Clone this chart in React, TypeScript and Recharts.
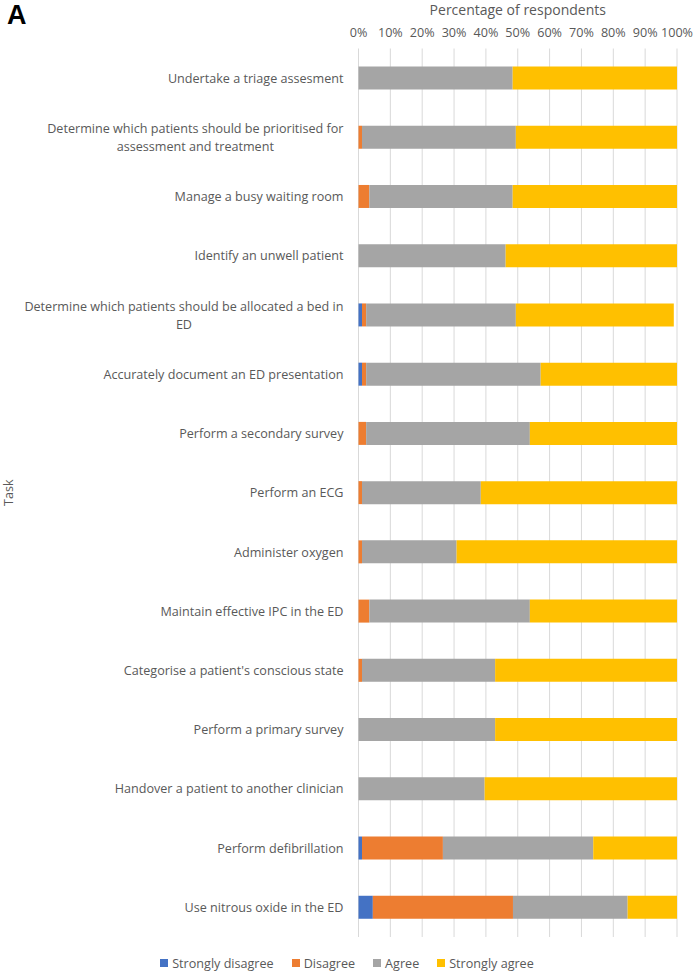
import React from "react";
import { BarChart, Bar, XAxis, YAxis, CartesianGrid, Legend } from "recharts";

// Tasks, top to bottom
const categories = [
    "Undertake a triage assesment",
    "Determine which patients should be prioritised for assessment and treatment",
    "Manage a busy waiting room",
    "Identify an unwell patient",
    "Determine which patients should be allocated a bed in ED",
    "Accurately document an ED presentation",
    "Perform a secondary survey",
    "Perform an ECG",
    "Administer oxygen",
    "Maintain effective IPC in the ED",
    "Categorise a patient's conscious state",
    "Perform a primary survey",
    "Handover a patient to another clinician",
    "Perform defibrillation",
    "Use nitrous oxide in the ED",
];

// percentages
const stronglyDisagree = [0, 0, 0, 0, 1.1, 1.1, 0, 0, 0, 0, 0, 0, 0, 1.1, 4.5];
const disagree = [0, 1.1, 3.4, 0, 1.3, 1.3, 2.4, 1.1, 1.1, 3.4, 1.1, 0, 0, 25.4, 44.0];
const agree = [48.4, 48.3, 45.0, 46.2, 47.0, 54.8, 51.4, 37.3, 29.7, 50.4, 41.8, 42.9, 39.6, 47.2, 36.0];
const stronglyAgree = [51.6, 50.6, 51.6, 53.8, 49.6, 42.8, 46.2, 61.6, 69.2, 46.2, 57.1, 57.1, 60.4, 26.3, 15.5];

const xTicks = [0, 10, 20, 30, 40, 50, 60, 70, 80, 90, 100];

const series = [
    { key: "sd", name: "Strongly disagree", color: "#4472C4" },
    { key: "d", name: "Disagree", color: "#ED7D31" },
    { key: "a", name: "Agree", color: "#A5A5A5" },
    { key: "sa", name: "Strongly agree", color: "#FFC000" },
];

const data = categories.map((task, i) => ({
    task,
    sd: stronglyDisagree[i],
    d: disagree[i],
    a: agree[i],
    sa: stronglyAgree[i],
}));

const FONT = "'Open Sans', sans-serif";
const TEXT = "#595959";
const FS = 12.6;
const LINE_H = 18;
const WRAP_W = 335;

// measure text so wrapped labels can be centred on their own block, like Excel does
let ctx: CanvasRenderingContext2D | null = null;
const measure = (s: string) => {
    if (!ctx) ctx = document.createElement("canvas").getContext("2d");
    if (!ctx) return s.length * 6.2;
    ctx.font = `${FS}px 'Open Sans'`;
    return ctx.measureText(s).width;
};

const wrapWords = (s: string) => {
    const lines: string[] = [];
    let cur = "";
    s.split(" ").forEach((w) => {
        const next = cur ? `${cur} ${w}` : w;
        if (cur && measure(next) > WRAP_W) {
            lines.push(cur);
            cur = w;
        } else {
            cur = next;
        }
    });
    if (cur) lines.push(cur);
    return lines;
};

const TaskTick = ({ x, y, payload }: any) => {
    const lines = wrapWords(String(payload.value));
    const blockW = Math.max(...lines.map(measure));
    const cx = x - blockW / 2;
    return (
        <text
            textAnchor="middle"
            fill={TEXT}
            style={{ fontSize: FS, fontFamily: FONT }}
        >
            {lines.map((l, i) => (
                <tspan
                    key={i}
                    x={cx}
                    y={y + (i - (lines.length - 1) / 2) * LINE_H}
                    dy="0.36em"
                >
                    {l}
                </tspan>
            ))}
        </text>
    );
};

const LegendRow = () => (
    <div
        style={{
            display: "flex",
            justifyContent: "center",
            alignItems: "center",
            fontFamily: FONT,
            fontSize: FS,
            color: TEXT,
            height: 18,
        }}
    >
        {series.map((s) => (
            <div
                key={s.key}
                style={{ display: "flex", alignItems: "center", margin: "0 9px" }}
            >
                <span
                    style={{
                        width: 8,
                        height: 8,
                        background: s.color,
                        marginRight: 4,
                        display: "inline-block",
                    }}
                />
                {s.name}
            </div>
        ))}
    </div>
);

export default function App() {
    return (
        <div
            style={{
                position: "absolute",
                top: 0,
                left: 0,
                width: 694,
                height: 973,
                background: "#fff",
            }}
        >
            <div
                style={{
                    position: "absolute",
                    left: 7,
                    top: 0,
                    fontFamily: "'Liberation Sans', Arial, sans-serif",
                    fontWeight: "bold",
                    fontSize: 27,
                    color: "#000",
                }}
            >
                A
            </div>
            <BarChart
                width={694}
                height={973}
                data={data}
                layout="vertical"
                barSize={23}
                margin={{ top: 0, right: 17, bottom: 18, left: 0 }}
                style={{ fontFamily: FONT }}
            >
                <CartesianGrid horizontal={false} stroke="#D9D9D9" />
                <XAxis
                    type="number"
                    orientation="top"
                    domain={[0, 100]}
                    ticks={xTicks}
                    tickFormatter={(v) => `${v}%`}
                    height={48.5}
                    tickLine={false}
                    axisLine={false}
                    tickSize={0}
                    tickMargin={12}
                    interval={0}
                    tick={{ fill: TEXT, fontSize: FS }}
                    label={{
                        value: "Percentage of respondents",
                        position: "insideTop",
                        offset: 5,
                        fill: TEXT,
                        fontSize: 14,
                    }}
                />
                <YAxis
                    type="category"
                    dataKey="task"
                    width={358.5}
                    tickLine={false}
                    axisLine={false}
                    tickSize={0}
                    tickMargin={15}
                    interval={0}
                    tick={<TaskTick />}
                    label={{
                        value: "Task",
                        angle: -90,
                        position: "insideLeft",
                        offset: 9,
                        textAnchor: "middle",
                        fill: TEXT,
                        fontSize: FS,
                    }}
                />
                <Legend
                    content={<LegendRow />}
                    verticalAlign="bottom"
                    wrapperStyle={{ top: 954, left: 0, width: 694, height: 18 }}
                />
                {series.map((s) => (
                    <Bar
                        key={s.key}
                        dataKey={s.key}
                        name={s.name}
                        stackId="one"
                        fill={s.color}
                        isAnimationActive={false}
                    />
                ))}
            </BarChart>
        </div>
    );
}
